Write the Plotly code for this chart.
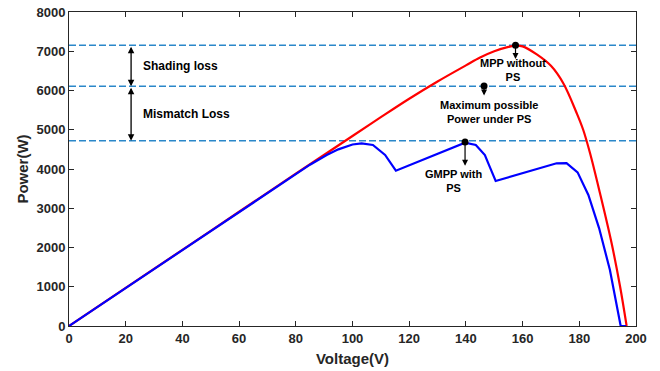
import plotly.graph_objects as go

# Data
v_red = [0, 20, 40, 60, 80, 100, 110, 120, 130, 140, 145, 150, 155, 157.5, 160, 165, 170, 174.4, 179.1, 181.4, 183.8, 187.3, 191.4, 194.4, 196.7]
p_red = [0, 970, 1940, 2910, 3880, 4840, 5320, 5790, 6230, 6640, 6840, 7000, 7110, 7145, 7125, 6920, 6630, 6180, 5420, 4994, 4400, 3380, 2107, 1000, 0]

v_blue = [0, 20, 40, 60, 79, 85, 90.9, 95, 100, 103.2, 107.2, 111.5, 115.3, 139.7, 143.5, 146.7, 147.9, 150.5, 172, 175.5, 179.4, 183.2, 187, 190.8, 194.6, 196.5]
p_blue = [0, 970, 1940, 2910, 3830, 4110, 4357, 4500, 4625, 4655, 4611, 4357, 3957, 4670, 4611, 4357, 4145, 3694, 4145, 4150, 3915, 3338, 2489, 1427, 0, 0]

levels = [7150, 6110, 4720]
points_v = [157.5, 146.4, 139.7]
points_p = [7150, 6115, 4690]
point_labels = ["MPP without<br>PS", "Maximum possible<br>Power under PS", "GMPP with<br>PS"]
loss_labels = ["Shading loss", "Mismatch Loss"]

x_ticks = list(range(0, 201, 20))
y_ticks = list(range(0, 8001, 1000))

FONT = "Liberation Sans, Arial, sans-serif"
DASH_COLOR = "#2B87C9"

fig = go.Figure()

for lv in levels:
    fig.add_shape(type="line", xref="paper", yref="y", x0=0, x1=1, y0=lv, y1=lv,
                  line=dict(color=DASH_COLOR, width=1.5, dash="7px,3px"), layer="below")

fig.add_trace(go.Scatter(x=v_red, y=p_red, mode="lines", line=dict(color="#FF0000", width=2.2),
                         line_shape="spline", showlegend=False))
fig.add_trace(go.Scatter(x=v_blue, y=p_blue, mode="lines", line=dict(color="#0000FF", width=2.2),
                         showlegend=False))
fig.add_trace(go.Scatter(x=points_v, y=points_p, mode="markers",
                         marker=dict(color="black", size=7), showlegend=False))

# double arrows for losses
arrow_v = 21.9
for (top, bot) in [(levels[0], levels[1]), (levels[1], levels[2])]:
    fig.add_annotation(x=arrow_v, y=bot, ax=arrow_v, ay=top, xref="x", yref="y", axref="x", ayref="y",
                       text="", showarrow=True, arrowhead=2, arrowside="end+start", arrowsize=1,
                       arrowwidth=1.3, arrowcolor="black")

fig.add_annotation(x=25.3, y=6620, text=loss_labels[0], showarrow=False,
                   xanchor="left", font=dict(family=FONT, size=12, color="black", weight="bold"))
fig.add_annotation(x=25.3, y=5400, text=loss_labels[1], showarrow=False,
                   xanchor="left", font=dict(family=FONT, size=12, color="black", weight="bold"))

# small arrows below the points and their labels
arrow_ends = [6800, 5870, 4080]
label_pos = [(156.5, 6510), (148.1, 5465), (135.8, 3707)]
for i in range(3):
    fig.add_annotation(x=points_v[i], y=arrow_ends[i], ax=points_v[i], ay=points_p[i],
                       xref="x", yref="y", axref="x", ayref="y", text="", showarrow=True,
                       arrowhead=2, arrowsize=1, arrowwidth=1.2, arrowcolor="black")
    fig.add_annotation(x=label_pos[i][0], y=label_pos[i][1], text=point_labels[i], showarrow=False,
                       align="center", font=dict(family=FONT, size=11, color="black", weight="bold"))

axis_common = dict(showline=True, linecolor="#262626", linewidth=1, mirror="ticks", ticks="inside",
                   ticklen=5, tickcolor="#262626", showgrid=False, zeroline=False, automargin=False,
                   tickfont=dict(family=FONT, size=13, color="#262626", weight="bold"))

fig.update_xaxes(range=[0, 200], tickvals=x_ticks,
                 title=dict(text="Voltage(V)", font=dict(family=FONT, size=15, color="#262626", weight="bold"),
                            standoff=8),
                 **axis_common)
fig.update_yaxes(range=[0, 8000], tickvals=y_ticks,
                 title=dict(text="Power(W)", font=dict(family=FONT, size=15, color="#262626", weight="bold"),
                            standoff=4),
                 **axis_common)

fig.update_layout(width=660, height=371, margin=dict(l=69, r=24, t=12, b=45),
                  plot_bgcolor="white", paper_bgcolor="white")

fig.write_html("out.html")
